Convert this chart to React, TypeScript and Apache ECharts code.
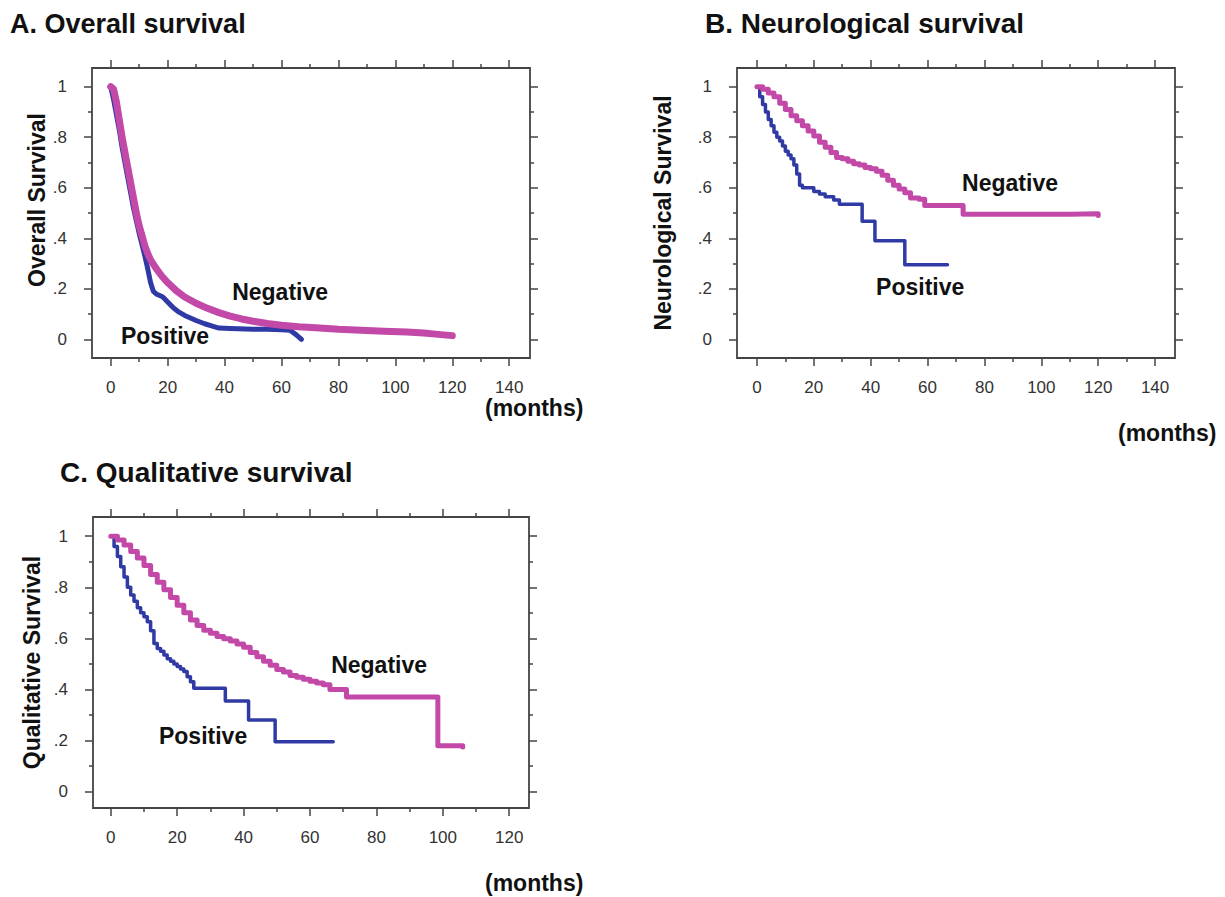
import React, { useEffect, useRef } from "react";
import * as echarts from "echarts";

// ---------------- data ----------------
const panelTitles = ["A. Overall survival", "B. Neurological survival", "C. Qualitative survival"];
const yTitles = ["Overall Survival", "Neurological Survival", "Qualitative Survival"];
const groupNames = ["Positive", "Negative"];
const xUnit = "(months)";

const xMajorAB = [0, 20, 40, 60, 80, 100, 120, 140];
const xMinorAB = [10, 30, 50, 70, 90, 110, 130];
const xMajorC = [0, 20, 40, 60, 80, 100, 120];
const xMinorC = [10, 30, 50, 70, 90, 110];
const yMajor = [0, 0.2, 0.4, 0.6, 0.8, 1];
const yMinor = [0.1, 0.3, 0.5, 0.7, 0.9];

// A. Overall survival
const overallPositive = [
  [0, 1.0], [1, 0.95], [2, 0.89], [3, 0.83], [4, 0.76], [5, 0.7], [6, 0.64], [7, 0.58], [8, 0.52],
  [9, 0.47], [10, 0.42], [11, 0.375], [12, 0.33], [13, 0.28], [14, 0.225], [15, 0.19], [16, 0.18],
  [18, 0.17], [19, 0.16], [20, 0.148], [22, 0.125], [24, 0.108], [26, 0.095], [28, 0.085],
  [30, 0.075], [33, 0.062], [36, 0.052], [38, 0.045], [42, 0.043], [50, 0.04], [55, 0.04],
  [60, 0.038], [63, 0.036], [65, 0.02], [67, 0.0],
];
const overallNegative = [
  [0, 1.0], [1, 0.99], [2, 0.94], [3, 0.87], [4, 0.8], [5, 0.74], [6, 0.68], [7, 0.62], [8, 0.56],
  [9, 0.5], [10, 0.45], [11, 0.41], [12, 0.37], [13, 0.34], [14, 0.315], [16, 0.28], [18, 0.25],
  [20, 0.225], [23, 0.193], [26, 0.168], [30, 0.143], [34, 0.123], [38, 0.106], [42, 0.092],
  [46, 0.081], [50, 0.072], [55, 0.063], [60, 0.056], [66, 0.05], [72, 0.046], [80, 0.04],
  [88, 0.036], [96, 0.032], [104, 0.029], [110, 0.025], [115, 0.02], [120, 0.015],
];

// B. Neurological survival
const neuroPositive = [
  [0, 1.0], [1, 0.96], [2, 0.93], [3, 0.9], [4, 0.87], [5, 0.845], [6, 0.82], [7, 0.8], [8, 0.785],
  [9, 0.765], [10, 0.745], [11, 0.73], [12, 0.715], [13, 0.69], [14, 0.655], [15, 0.61], [16, 0.6],
  [20, 0.585], [22, 0.575], [24, 0.565], [27, 0.552], [29, 0.535], [37, 0.468], [41.5, 0.39],
  [52, 0.295], [67, 0.295],
];
const neuroNegative = [
  [0, 1.0], [2, 0.99], [4, 0.975], [6, 0.96], [8, 0.935], [10, 0.91], [12, 0.885], [14, 0.865],
  [16, 0.845], [18, 0.825], [20, 0.805], [22, 0.78], [24, 0.76], [26, 0.74], [28, 0.72],
  [30, 0.715], [32, 0.705], [34, 0.695], [36, 0.69], [38, 0.68], [40, 0.675], [42, 0.665],
  [44, 0.65], [46, 0.63], [48, 0.61], [50, 0.595], [52, 0.58], [54, 0.56], [57, 0.555],
  [59, 0.53], [72.5, 0.495], [110, 0.497], [120, 0.49],
];

// C. Qualitative survival
const qualPositive = [
  [0, 1.0], [1, 0.96], [2, 0.92], [3, 0.88], [4, 0.84], [5, 0.8], [6, 0.77], [7, 0.745], [8, 0.72],
  [9, 0.7], [10, 0.685], [11, 0.665], [12, 0.63], [13, 0.58], [14, 0.56], [15, 0.55], [16, 0.535],
  [17, 0.52], [18, 0.51], [19, 0.5], [20, 0.49], [21, 0.48], [22, 0.47], [23, 0.45], [24, 0.43],
  [25, 0.405], [34.5, 0.355], [41.5, 0.28], [49.5, 0.195], [67, 0.195],
];
const qualNegative = [
  [0, 1.0], [2, 0.985], [4, 0.965], [6, 0.94], [8, 0.915], [10, 0.885], [12, 0.85], [14, 0.82],
  [16, 0.79], [18, 0.76], [20, 0.73], [22, 0.7], [24, 0.672], [26, 0.65], [28, 0.632], [30, 0.62],
  [32, 0.607], [34, 0.598], [36, 0.59], [38, 0.578], [40, 0.565], [42, 0.545], [44, 0.528],
  [46, 0.51], [48, 0.495], [50, 0.478], [52, 0.468], [54, 0.455], [56, 0.448], [58, 0.44],
  [60, 0.432], [62, 0.425], [64, 0.418], [66, 0.4], [71, 0.37], [98.5, 0.18], [106, 0.175],
];

// ---------------- layout / style ----------------
const FONT = "'Liberation Sans', Arial, Helvetica, sans-serif";
const BLUE = "#2f3aa4";
const MAGENTA = "#c249a8";
const AXIS_COLOR = "#444";

const panels = [
  {
    grid: { left: 92, top: 68, width: 438, height: 290 },
    xRange: [-6.57, 147.3], yRange: [-0.0735, 1.074],
    xMajor: xMajorAB, xMinor: xMinorAB,
    pos: overallPositive, neg: overallNegative, step: false, lw: [5, 7],
    nameGap: 40, namePad: 26,
    labelPos: [[19.1, 0.015], [59.5, 0.189]],
    title: [10, 10], units: [485, 408],
  },
  {
    grid: { left: 737, top: 68, width: 438, height: 290 },
    xRange: [-7.0, 147.0], yRange: [-0.0735, 1.074],
    xMajor: xMajorAB, xMinor: xMinorAB,
    pos: neuroPositive, neg: neuroNegative, step: true, lw: [3.5, 5],
    nameGap: 63, namePad: 0,
    labelPos: [[57.4, 0.208], [89, 0.62]],
    title: [705, 9], units: [1118, 433],
  },
  {
    grid: { left: 93, top: 517, width: 436, height: 291 },
    xRange: [-5.35, 125.95], yRange: [-0.064, 1.075],
    xMajor: xMajorC, xMinor: xMinorC,
    pos: qualPositive, neg: qualNegative, step: true, lw: [3.5, 5],
    nameGap: 50, namePad: 0,
    labelPos: [[27.8, 0.216], [80.8, 0.496]],
    title: [60, 458], units: [485, 883],
  },
];

const titleSizes = [27, 28, 28];

const yFmt = (v: number) => (v === 0 ? "0" : v === 1 ? "1" : String(v).replace(/^0/, ""));

function buildOption() {
  const grid: any[] = [];
  const xAxis: any[] = [];
  const yAxis: any[] = [];
  const series: any[] = [];
  const title: any[] = [];
  const graphic: any[] = [];
  const tickStyle = { color: AXIS_COLOR, width: 1.5 };

  panels.forEach((p, i) => {
    grid.push({
      ...p.grid,
      show: true,
      borderColor: AXIS_COLOR,
      borderWidth: 1.8,
      backgroundColor: "transparent",
      containLabel: false,
    });
    const xBase = {
      type: "value", gridIndex: i, min: p.xRange[0], max: p.xRange[1],
      splitLine: { show: false }, axisLine: { show: false, onZero: false },
    };
    const xi = xAxis.length;
    xAxis.push(
      {
        ...xBase, position: "bottom",
        axisTick: { show: true, customValues: p.xMajor, length: 8, lineStyle: tickStyle },
        axisLabel: { show: true, customValues: p.xMajor, margin: 21, fontSize: 17, color: "#333", fontFamily: FONT },
      },
      {
        ...xBase, position: "bottom",
        axisTick: { show: true, customValues: p.xMinor, length: 4, lineStyle: tickStyle },
        axisLabel: { show: false },
      },
      {
        ...xBase, position: "top",
        axisTick: { show: true, customValues: p.xMajor, length: 8, lineStyle: tickStyle },
        axisLabel: { show: false },
      },
      {
        ...xBase, position: "top",
        axisTick: { show: true, customValues: p.xMinor, length: 4, lineStyle: tickStyle },
        axisLabel: { show: false },
      }
    );
    const yBase = {
      type: "value", gridIndex: i, min: p.yRange[0], max: p.yRange[1],
      splitLine: { show: false }, axisLine: { show: false, onZero: false },
    };
    const yi = yAxis.length;
    yAxis.push(
      {
        ...yBase, position: "left",
        name: yTitles[i], nameLocation: "middle", nameGap: p.nameGap,
        nameTextStyle: {
          fontSize: 23, fontWeight: "bold", color: "#111", fontFamily: FONT,
          padding: [0, 0, 0, p.namePad],
        },
        axisTick: { show: true, customValues: yMajor, length: 8, lineStyle: tickStyle },
        axisLabel: { show: true, customValues: yMajor, margin: 25, fontSize: 17, color: "#333", fontFamily: FONT, formatter: yFmt },
      },
      {
        ...yBase, position: "left",
        axisTick: { show: true, customValues: yMinor, length: 4, lineStyle: tickStyle },
        axisLabel: { show: false },
      },
      {
        ...yBase, position: "right",
        axisTick: { show: true, customValues: yMajor, length: 8, lineStyle: tickStyle },
        axisLabel: { show: false },
      },
      {
        ...yBase, position: "right",
        axisTick: { show: true, customValues: yMinor, length: 4, lineStyle: tickStyle },
        axisLabel: { show: false },
      }
    );

    series.push(
      {
        type: "line", name: groupNames[0] + i, xAxisIndex: xi, yAxisIndex: yi,
        data: p.pos, step: p.step ? "end" : false, showSymbol: false, symbol: "none",
        lineStyle: { color: BLUE, width: p.lw[0], join: "round", cap: "round" },
        silent: true, z: 2,
      },
      {
        type: "line", name: groupNames[1] + i, xAxisIndex: xi, yAxisIndex: yi,
        data: p.neg, step: p.step ? "end" : false, showSymbol: false, symbol: "none",
        lineStyle: { color: MAGENTA, width: p.lw[1], join: "round", cap: "round" },
        silent: true, z: 3,
      },
      {
        type: "scatter", xAxisIndex: xi, yAxisIndex: yi, silent: true, z: 5,
        symbolSize: 0, itemStyle: { color: "#111", opacity: 1 },
        data: groupNames.map((n, k) => ({ name: n, value: p.labelPos[k] })),
        label: {
          show: true, position: "inside", formatter: "{b}",
          fontSize: 23, fontWeight: "bold", color: "#111", fontFamily: FONT,
          textBorderWidth: 0, opacity: 1,
        },
      }
    );

    title.push({
      text: panelTitles[i], left: p.title[0], top: p.title[1], padding: 0,
      textStyle: { fontSize: titleSizes[i], fontWeight: "bold", color: "#111", fontFamily: FONT },
    });
    graphic.push({
      type: "text", x: p.units[0], y: p.units[1], silent: true,
      style: {
        text: xUnit, fill: "#111", font: `bold 23px ${FONT}`,
        align: "left", verticalAlign: "middle",
      },
    });
  });

  return {
    animation: false,
    backgroundColor: "#ffffff",
    title, grid, xAxis, yAxis, series, graphic,
  };
}

export default function App() {
  const ref = useRef<HTMLDivElement>(null);
  useEffect(() => {
    if (!ref.current) return;
    const chart = echarts.init(ref.current, undefined, { renderer: "svg" });
    chart.setOption(buildOption() as any);
    return () => chart.dispose();
  }, []);
  return (
    <div
      ref={ref}
      style={{ position: "fixed", left: 0, top: 0, width: 1225, height: 897, background: "#fff" }}
    />
  );
}
